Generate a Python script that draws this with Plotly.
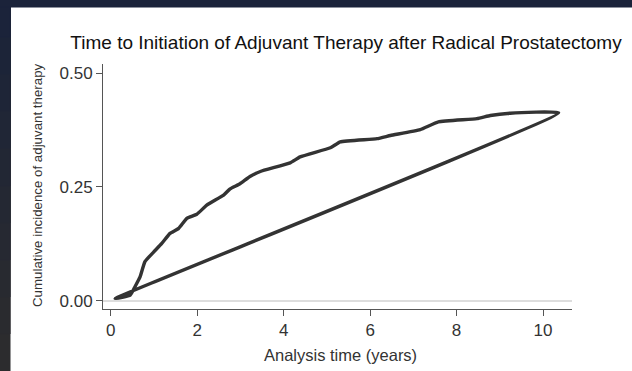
import plotly.graph_objects as go

# Cumulative incidence curve (years, incidence), then the straight return segment to the start
time_years = [0.10, 0.45, 0.56, 0.68, 0.79, 0.99, 1.18, 1.37, 1.57, 1.76, 1.99, 2.22, 2.61,
              2.76, 2.99, 3.22, 3.46, 4.15, 4.38, 5.08, 5.31, 6.16, 6.47, 7.16, 7.58, 8.47,
              8.78, 9.24, 10.36, 0.10]
incidence = [0.005, 0.0125, 0.031, 0.053, 0.086, 0.107, 0.126, 0.148, 0.159, 0.181, 0.190,
             0.210, 0.232, 0.246, 0.257, 0.273, 0.284, 0.303, 0.316, 0.336, 0.349, 0.356,
             0.363, 0.376, 0.393, 0.400, 0.407, 0.412, 0.413, 0.005]

x_ticks = [0, 2, 4, 6, 8, 10]
y_ticks = [0.00, 0.25, 0.50]

title_text = "Time to Initiation of Adjuvant Therapy after Radical Prostatectomy"
x_title = "Analysis time (years)"
y_title = "Cumulative incidence of adjuvant therapy"

W, H = 632, 371
L, R, T, B = 103, 60, 64, 62
pw, ph = W - L - R, H - T - B

def px(X):
    return (X - L) / pw

def py(Y):
    return (H - B - Y) / ph

fig = go.Figure()
fig.add_trace(go.Scatter(
    x=time_years, y=incidence, mode="lines",
    line=dict(color="#333333", width=3.4, shape="spline", smoothing=0.4),
    hoverinfo="skip", showlegend=False,
))

shapes = []
# dark frame strips: nested rects from the top, grayest (longest) first, navy (shortest) last
navy = (27, 35, 58)
gray = (44, 44, 46)
n = 10
for i in range(n - 1, -1, -1):
    t = i / (n - 1)
    c = "rgb(%d,%d,%d)" % tuple(int(navy[k] + (gray[k] - navy[k]) * t) for k in range(3))
    bottom = H + 5 if i == n - 1 else round((i + 1) * H / n)
    shapes.append(dict(type="rect", xref="paper", yref="paper", x0=px(-5), x1=px(10),
                       y0=py(bottom), y1=py(-5), fillcolor=c,
                       line=dict(width=1, color=c), layer="above"))
shapes.append(dict(type="rect", xref="paper", yref="paper", x0=px(-5), x1=px(W + 5), y0=py(7), y1=py(-5),
                   fillcolor="#1b233a", line=dict(width=1, color="#1b233a"), layer="above"))

fig.update_layout(
    width=W, height=H,
    margin=dict(l=L, r=R, t=T, b=B),
    paper_bgcolor="white", plot_bgcolor="white",
    font=dict(family="Liberation Sans, Arial, sans-serif", color="#222222"),
    title=dict(text=title_text, x=346 / W, xanchor="center", xref="container",
               y=1 - 42 / H, yanchor="middle", yref="container",
               font=dict(size=19, color="#111111")),
    xaxis=dict(range=[-0.18, 10.67], tickvals=x_ticks, ticktext=[str(v) for v in x_ticks],
               showgrid=False, zeroline=False, showline=True, linecolor="#555555", linewidth=1,
               ticks="outside", ticklen=6, tickcolor="#555555",
               tickfont=dict(size=17, color="#333333")),
    yaxis=dict(range=[-0.018, 0.52], tickvals=y_ticks, ticktext=["%.2f" % v for v in y_ticks],
               showgrid=False, zeroline=True, zerolinecolor="#dddddd", zerolinewidth=1.5,
               showline=True, linecolor="#555555", linewidth=1,
               ticks="outside", ticklen=6, tickcolor="#555555",
               tickfont=dict(size=17, color="#333333")),
    shapes=shapes,
    annotations=[
        dict(text=x_title, xref="paper", yref="paper", x=px(340), y=py(355),
             xanchor="center", yanchor="middle", showarrow=False,
             font=dict(size=16.5, color="#333333")),
        dict(text=y_title, xref="paper", yref="paper", x=px(37), y=py(185),
             xanchor="center", yanchor="middle", showarrow=False, textangle=-90,
             font=dict(size=13.3, color="#333333")),
    ],
)

fig.write_html("out.html")
